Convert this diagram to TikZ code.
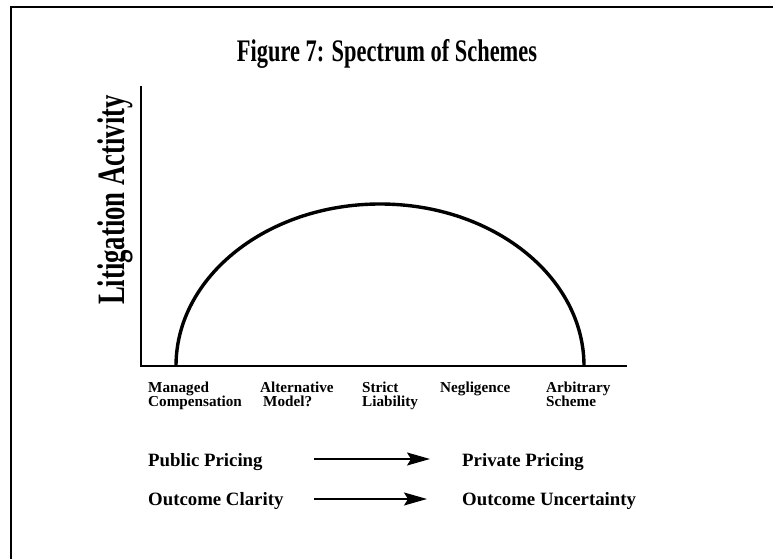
\documentclass[tikz,border=0pt]{standalone}
\usepackage{fontspec}
\setmainfont{Liberation Serif}
\usetikzlibrary{arrows.meta}
\begin{document}
\begin{tikzpicture}[x=1pt,y=-1pt]
        \tikzstyle{scheme}=[anchor=north west,inner sep=0pt,align=left,font=\bfseries\fontsize{15.2}{14}\selectfont]
        \tikzstyle{pricing}=[anchor=west,inner sep=0pt,font=\bfseries\fontsize{18.8}{20}\selectfont]
        \tikzstyle{axis}=[draw, line width=2.4pt]
        \tikzstyle{trend}=[draw, line width=1.4pt, -{Stealth[length=23pt,width=13pt,inset=4pt]}]
       \useasboundingbox (0,0) rectangle (773,559);
       % frame
       \draw[line width=2pt] (10.5,559) -- (10.5,7.5) -- (773,7.5);
       \node (title) at (387,54) {\scalebox{1}[1.4]{\bfseries\fontsize{22.4}{24}\selectfont Figure 7: Spectrum of Schemes}};
       \node[rotate=90] (ylab) at (115,200) {\scalebox{1}[1.45]{\bfseries\fontsize{26.7}{28}\selectfont Litigation Activity}};
       % axes
       \coordinate (origin) at (141,366);
       \coordinate (ytop) at (141,86);
       \coordinate (xend) at (627,366);
       \path[axis] (ytop) -- (origin) -- (xend);
       \coordinate (left) at (176,366);
       \draw[line width=3.4pt] (left) arc[start angle=180,end angle=0,x radius=204pt,y radius=162pt];
       % schemes
       \node [scheme] (managed) at (148,382) {Managed\\Compensation};
       \node [scheme] (altmodel) at (260,382) {Alternative\\\hspace*{3pt}Model?};
       \node [scheme] (strict) at (362,382) {Strict\\Liability};
       \node [scheme] (neglig) at (440,382) {Negligence};
       \node [scheme] (arbit) at (546,382) {Arbitrary\\Scheme};
       % pricing and outcome
       \node [pricing] (pub) at (148,462) {Public Pricing};
       \node [pricing] (priv) at (462,462) {Private Pricing};
       \node [pricing] (clar) at (148,501) {Outcome Clarity};
       \node [pricing] (uncert) at (462,501) {Outcome Uncertainty};
       \coordinate (p1) at (314,459);
       \coordinate (p2) at (430,459);
       \coordinate (o1) at (314,499);
       \coordinate (o2) at (427,499);
       \path[trend] (p1) -- (p2);
       \path[trend] (o1) -- (o2);
      \end{tikzpicture}
\end{document}
